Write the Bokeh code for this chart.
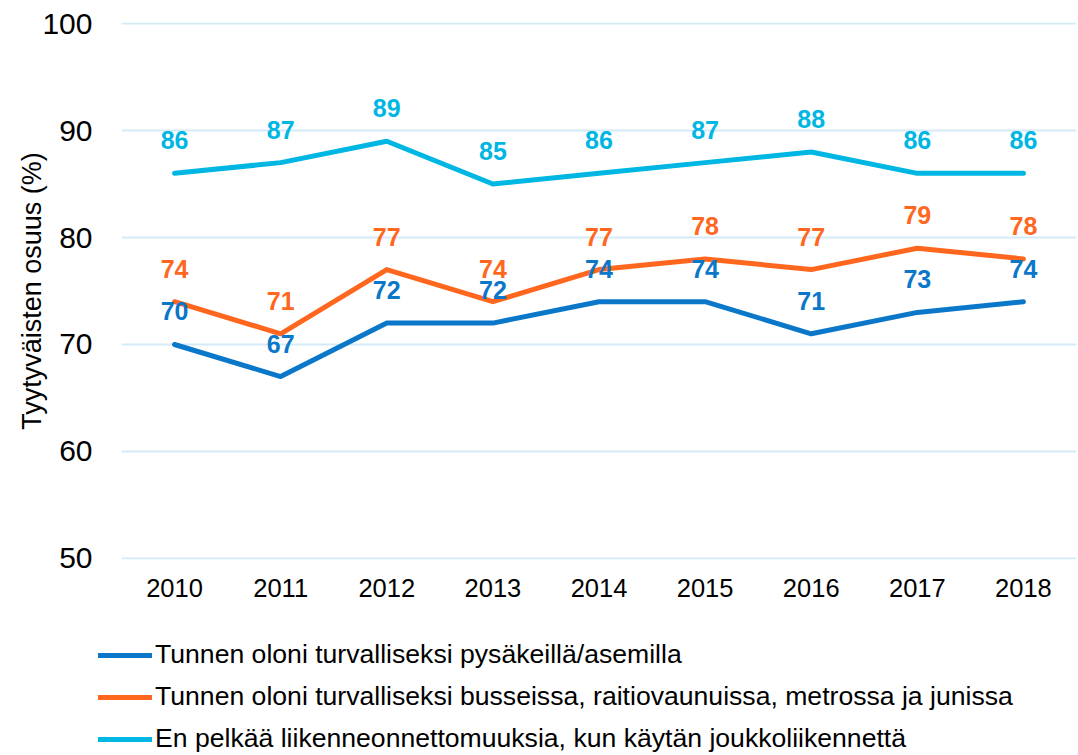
from bokeh.plotting import figure
from bokeh.layouts import column
from bokeh.models import ColumnDataSource, LabelSet, Legend, LegendItem, FactorRange, Range1d, FixedTicker
from bokeh.core.properties import value
from bokeh.embed import file_html
from bokeh.resources import INLINE

years = ["2010", "2011", "2012", "2013", "2014", "2015", "2016", "2017", "2018"]
stops = [70, 67, 72, 72, 74, 74, 71, 73, 74]
vehicles = [74, 71, 77, 74, 77, 78, 77, 79, 78]
accidents = [86, 87, 89, 85, 86, 87, 88, 86, 86]
names = [
    "Tunnen oloni turvalliseksi pysäkeillä/asemilla",
    "Tunnen oloni turvalliseksi busseissa, raitiovaunuissa, metrossa ja junissa",
    "En pelkää liikenneonnettomuuksia, kun käytän joukkoliikennettä",
]
y_label = "Tyytyväisten osuus (%)"
y_ticks = [50, 60, 70, 80, 90, 100]
colors = ["#0B77C9", "#FF671F", "#00B6E3"]
series = [stops, vehicles, accidents]

FONT = "Liberation Sans"

p = figure(width=1078, height=615, x_range=FactorRange(*years), y_range=Range1d(49.9, 100.1),
           output_backend="svg", toolbar_location=None,
           min_border_left=121, min_border_right=2, min_border_top=22, min_border_bottom=56)
p.outline_line_color = None
p.background_fill_color = "white"
p.border_fill_color = "white"

p.xgrid.grid_line_color = None
p.ygrid.grid_line_color = "#D5EAF7"
p.ygrid.grid_line_width = 2
p.yaxis.ticker = FixedTicker(ticks=y_ticks)

for ax in (p.xaxis[0], p.yaxis[0]):
    ax.axis_line_color = None
    ax.major_tick_line_color = None
    ax.minor_tick_line_color = None
    ax.major_tick_out = 0
    ax.major_tick_in = 0
    ax.minor_tick_out = 0
    ax.minor_tick_in = 0
    ax.major_label_text_font = FONT
    ax.major_label_text_color = "#000000"

p.xaxis.major_label_text_font_size = "25.5px"
p.xaxis.major_label_standoff = 19
p.yaxis.major_label_text_font_size = "30px"
p.yaxis.major_label_standoff = 29
p.yaxis.axis_label = y_label
p.yaxis.axis_label_text_font = FONT
p.yaxis.axis_label_text_font_size = "27px"
p.yaxis.axis_label_text_font_style = "normal"
p.yaxis.axis_label_text_color = "#000000"
p.yaxis.axis_label_standoff = -8

for vals, c in zip(series, colors):
    src = ColumnDataSource(dict(x=years, y=vals))
    p.line("x", "y", source=src, line_color=c, line_width=5, line_cap="round", line_join="round")

for vals, c in zip(reversed(series), reversed(colors)):
    src = ColumnDataSource(dict(x=years, y=vals, t=[str(v) for v in vals]))
    lab = LabelSet(x="x", y="y", text="t", source=src, y_offset=33,
                   text_align="center", text_baseline="middle",
                   text_font=value(FONT), text_font_size=value("25px"), text_font_style=value("bold"),
                   text_color=value(c))
    p.add_layout(lab)

# legend strip below the chart
p2 = figure(width=1078, height=140, x_range=Range1d(0, 1), y_range=Range1d(0, 1),
            output_backend="svg", toolbar_location=None, x_axis_type=None, y_axis_type=None,
            min_border_left=0, min_border_right=0, min_border_top=0, min_border_bottom=0)
p2.outline_line_color = None
p2.xgrid.visible = False
p2.ygrid.visible = False
p2.border_fill_color = "white"
if "frame_align" in p2.properties():
    p2.frame_align = False
    p.frame_align = False
    legend_x = 98
else:
    legend_x = -23

items = []
for n, c in zip(names, colors):
    # off-range dummy data so that the legend swatch has a colour to draw
    r = p2.line(x=[-2, -1], y=[-2, -1], line_color=c, line_width=5, line_cap="round")
    items.append(LegendItem(label=n, renderers=[r]))

legend = Legend(items=items, location=(legend_x, 1), orientation="vertical",
                glyph_width=54, glyph_height=28, label_height=28, label_standoff=3,
                spacing=11, padding=0, margin=0,
                label_text_font=FONT, label_text_font_size="26.6px", label_text_color="#000000",
                background_fill_alpha=0, border_line_color=None)
p2.add_layout(legend, "center")

layout = column(p, p2, spacing=0)
open("out.html", "w").write(file_html(layout, INLINE))
